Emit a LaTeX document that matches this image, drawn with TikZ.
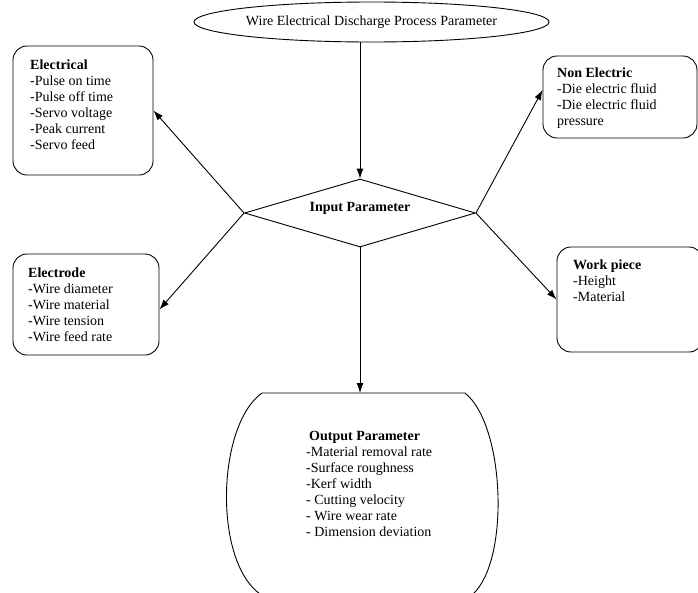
\documentclass[tikz,border=0pt]{standalone}
\usepackage{fontspec}
\setmainfont{Liberation Serif}
\usetikzlibrary{shapes.geometric, arrows.meta}

\begin{document}
\begin{tikzpicture}[x=1pt, y=-1pt,
    every node/.style={font=\fontsize{14}{16}\selectfont},
    box/.style={draw, line width=0.9pt, rounded corners=14pt, inner sep=0pt},
    txt/.style={align=left, inner sep=0pt, anchor=north west},
    conn/.style={-{Latex[length=10pt, width=7pt]}, line width=0.9pt}]
  \useasboundingbox (0,0) rectangle (698,592);

  \node[draw, ellipse, line width=0.9pt, minimum width=337pt, minimum height=40pt, inner sep=0pt] (wedp) at (371.5,22) {Wire Electrical Discharge Process Parameter};

  \node[draw, diamond, line width=0.9pt, minimum width=231pt, minimum height=68pt, inner sep=0pt] (inp) at (360,213) {};
  \node[font=\fontsize{14}{16}\selectfont\bfseries] (inplbl) at (360,208) {Input Parameter};

  \node[box, minimum width=140pt, minimum height=129pt] (elec) at (83,110.5) {};
  \node[txt] (electxt) at (30,59.5) {\textbf{Electrical}\\-Pulse on time\\-Pulse off time\\-Servo voltage\\-Peak current\\-Servo feed};

  \node[box, minimum width=146pt, minimum height=101pt] (elde) at (86,304.5) {};
  \node[txt] (eldetxt) at (28,267.5) {\textbf{Electrode}\\-Wire diameter\\-Wire material\\-Wire tension\\-Wire feed rate};

  \node[box, minimum width=154pt, minimum height=82pt] (nonel) at (620,97) {};
  \node[txt] (noneltxt) at (557,67.5) {\textbf{Non Electric}\\-Die electric fluid\\-Die electric fluid\\pressure};

  \node[box, minimum width=146pt, minimum height=105pt] (wpc) at (630,299.5) {};
  \node[txt] (wpctxt) at (573,259.5) {\textbf{Work piece}\\-Height\\-Material};

  \draw[line width=0.9pt] (262,393) -- (465,393) .. controls (505,425) and (510,560) .. (473,594)
    -- (260,594) .. controls (213,560) and (217,425) .. (262,393) -- cycle;
  \coordinate (outtop) at (360,393);
  \node[txt] (outtxt) at (306,431.5) {\hspace*{3pt}\textbf{Output Parameter}\\-Material removal rate\\-Surface roughness\\-Kerf width\\- Cutting velocity\\- Wire wear rate\\- Dimension deviation};

  \draw[conn] (wedp.south -| inp.north) -- (inp.north);
  \draw[conn] (inp.west) -- (elec.east);
  \draw[conn] (inp.west) -- ([yshift=-5pt]elde.east);
  \draw[conn] (inp.east) -- ([yshift=7pt]nonel.west);
  \draw[conn] (inp.east) -- (wpc.west);
  \draw[conn] (inp.south) -- (outtop);
\end{tikzpicture}
\end{document}
